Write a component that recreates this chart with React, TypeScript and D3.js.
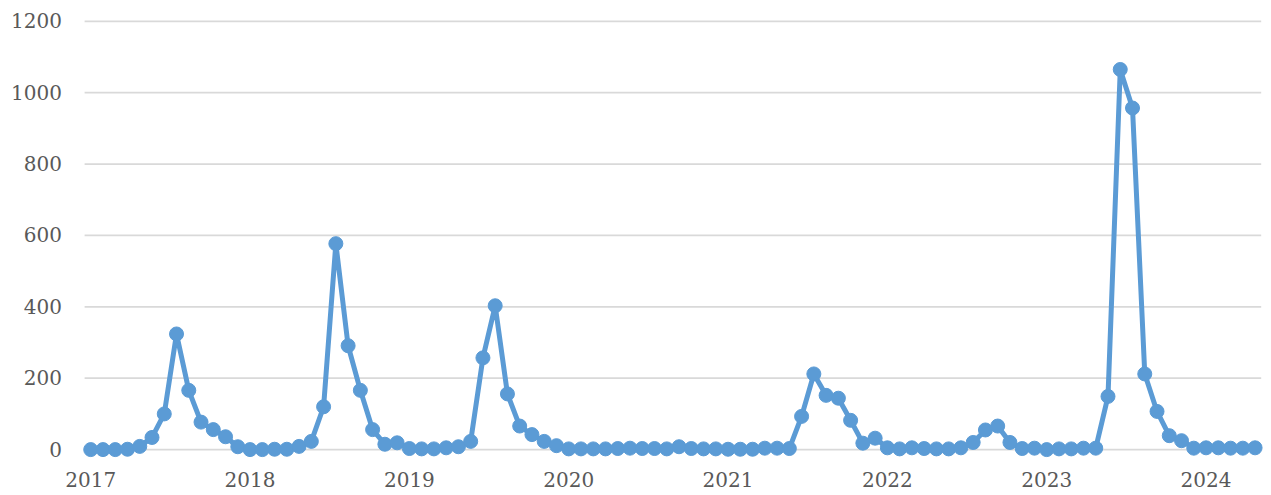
import React from "react";
import * as d3 from "d3";

// 4-week periods: 13 per year, 2017 P1 .. 2024 P5
const years = [2017, 2018, 2019, 2020, 2021, 2022, 2023, 2024];
const periodsPerYear = 13;

const values2017 = [0, 0, 0, 1, 9, 34, 100, 324, 166, 77, 56, 36, 8];
const values2018 = [0, 0, 1, 1, 9, 23, 120, 577, 291, 166, 56, 15, 19];
const values2019 = [3, 2, 2, 5, 8, 23, 257, 403, 156, 66, 42, 23, 11];
const values2020 = [2, 2, 2, 2, 3, 4, 3, 3, 2, 8, 3, 2, 2];
const values2021 = [1, 1, 1, 4, 4, 3, 93, 212, 152, 144, 82, 18, 32];
const values2022 = [5, 2, 5, 3, 2, 2, 5, 20, 55, 66, 20, 3, 4];
const values2023 = [0, 2, 2, 4, 4, 149, 1065, 957, 212, 107, 39, 25, 4];
const values2024 = [5, 5, 4, 4, 5];

const yTicks = [0, 200, 400, 600, 800, 1000, 1200];

const series = [
  ...values2017, ...values2018, ...values2019, ...values2020,
  ...values2021, ...values2022, ...values2023, ...values2024,
];
const categories = series.map((_, i) => {
  const y = years[Math.floor(i / periodsPerYear)];
  const p = (i % periodsPerYear) + 1;
  return `${y}-P${p}`;
});

const W = 1271;
const H = 495;
const plot = { left: 84.6, right: 1261.2, top: 21.3, bottom: 449.6 };
const FONT = "'DejaVu Serif', serif";
const TEXT_COLOR = "#595959";
const BLUE = "#5B9BD5";

export default function App() {
  const x = d3
    .scaleBand<string>()
    .domain(categories)
    .range([plot.left, plot.right])
    .paddingInner(0)
    .paddingOuter(0);
  const y = d3.scaleLinear().domain([0, 1200]).range([plot.bottom, plot.top]);
  const cx = (i: number) => (x(categories[i]) as number) + x.bandwidth() / 2;

  const line = d3
    .line<number>()
    .x((_, i) => cx(i))
    .y((d) => y(d));

  return (
    <svg
      width={W}
      height={H}
      style={{ position: "fixed", left: 0, top: 0, background: "#fff" }}
    >
      <rect x={0} y={0} width={W} height={H} fill="#fff" />
      {yTicks.map((t) => (
        <g key={t}>
          <line
            x1={plot.left}
            x2={plot.right}
            y1={y(t)}
            y2={y(t)}
            stroke="#D9D9D9"
            strokeWidth={1.75}
          />
          <text
            x={62}
            y={y(t)}
            dy="0.35em"
            textAnchor="end"
            fontFamily={FONT}
            fontSize={20}
            fill={TEXT_COLOR}
          >
            {t}
          </text>
        </g>
      ))}
      {categories.map((c, i) =>
        i % periodsPerYear === 0 ? (
          <text
            key={c}
            x={cx(i)}
            y={486.5}
            textAnchor="middle"
            fontFamily={FONT}
            fontSize={20}
            fill={TEXT_COLOR}
          >
            {years[i / periodsPerYear]}
          </text>
        ) : null
      )}
      <path
        d={line(series) as string}
        fill="none"
        stroke={BLUE}
        strokeWidth={5}
        strokeLinejoin="round"
        strokeLinecap="round"
      />
      {series.map((v, i) => (
        <circle key={i} cx={cx(i)} cy={y(v)} r={7} fill={BLUE} stroke={BLUE} strokeWidth={1} />
      ))}
    </svg>
  );
}
